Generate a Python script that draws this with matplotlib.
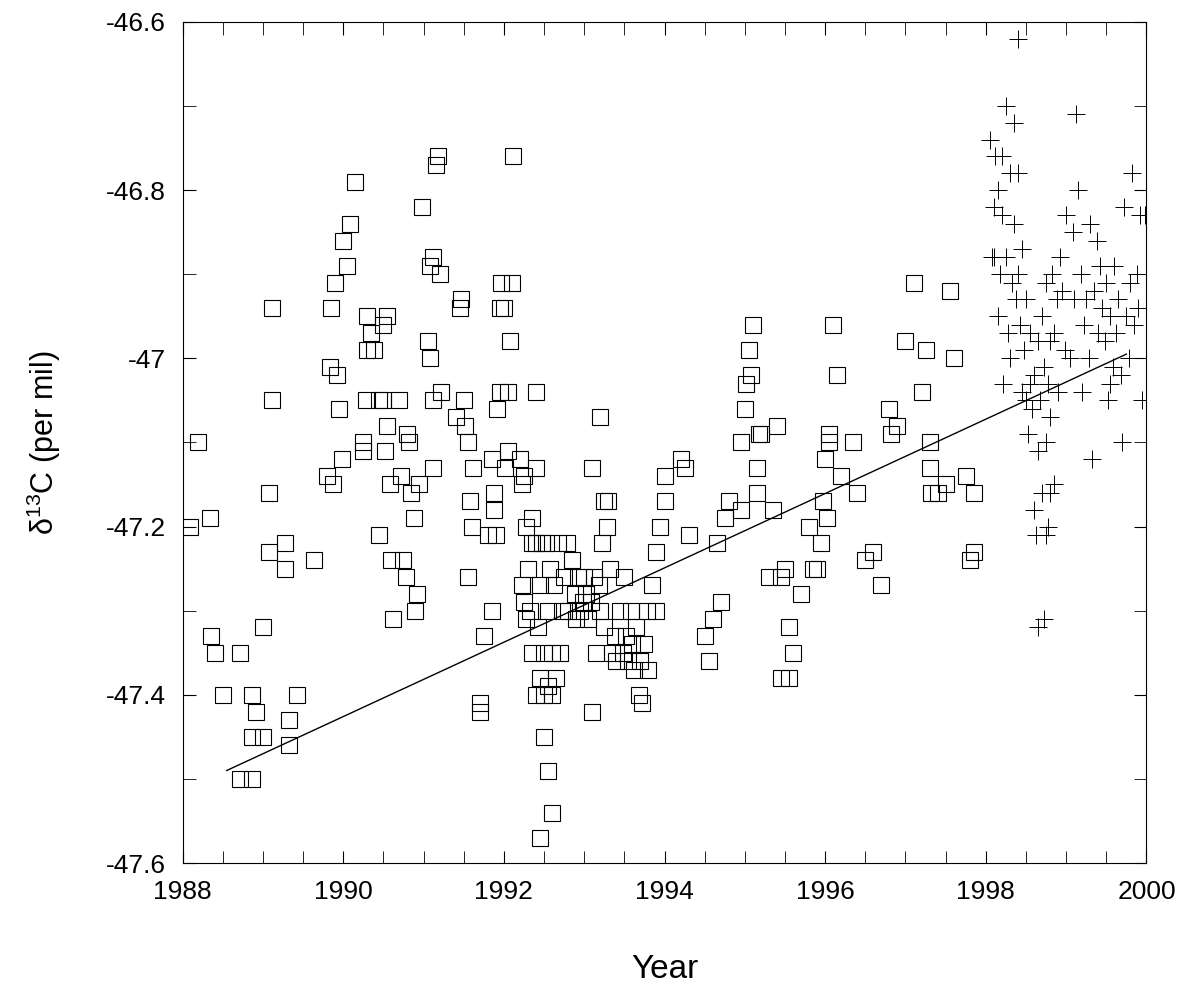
import numpy as np
import matplotlib.pyplot as plt
from matplotlib.ticker import MultipleLocator

plt.rcParams['font.family'] = ['Liberation Sans', 'DejaVu Sans']

# flask samples (squares)
sq_year = [1988.09, 1988.19, 1988.34, 1988.36, 1988.40, 1988.51, 1988.72, 1988.71, 1988.87, 1988.86,
           1988.87, 1988.91, 1989.00, 1989.00, 1989.08, 1989.08, 1989.11, 1989.12, 1989.27, 1989.27,
           1989.32, 1989.32, 1989.43, 1989.64,
           1989.80, 1989.83, 1989.85, 1989.87, 1989.90, 1989.92, 1989.95, 1989.98, 1990.00, 1990.05,
           1990.08, 1990.15, 1990.25, 1990.25, 1990.28, 1990.30, 1990.30, 1990.35, 1990.38, 1990.45,
           1990.45, 1990.50, 1990.50, 1990.52, 1990.55, 1990.55, 1990.58, 1990.60, 1990.62, 1990.70,
           1990.72, 1990.75, 1990.78, 1990.80, 1990.82, 1990.85, 1990.88, 1990.90, 1990.92, 1990.95,
           1990.98, 1991.05, 1991.08, 1991.08, 1991.12, 1991.15, 1991.18, 1991.20, 1991.22, 1991.12,
           1991.12, 1991.40, 1991.45, 1991.47, 1991.50, 1991.52, 1991.55, 1991.55, 1991.58, 1991.60,
           1991.62, 1991.70, 1991.70, 1991.75, 1991.80, 1991.85, 1991.85, 1991.88, 1991.88, 1991.90,
           1991.92, 1991.95, 1991.95, 1991.97, 1992.00, 1992.05, 1992.08, 1992.10, 1992.02, 1992.05,
           1992.12, 1992.20, 1992.22, 1992.25, 1992.28,
           1992.22, 1992.25, 1992.28, 1992.30, 1992.33, 1992.35, 1992.35, 1992.40, 1992.40, 1992.42,
           1992.45, 1992.45, 1992.48, 1992.50, 1992.50, 1992.52, 1992.55, 1992.55, 1992.58, 1992.60,
           1992.60, 1992.62, 1992.65, 1992.68, 1992.70, 1992.72, 1992.75, 1992.78, 1992.80, 1992.85,
           1992.88, 1992.90, 1992.92, 1992.95, 1992.98, 1993.00, 1993.02, 1993.05, 1993.08, 1993.10,
           1993.10, 1993.12, 1993.15, 1993.18, 1993.20, 1993.20, 1993.22, 1993.25, 1993.25, 1993.28,
           1993.30, 1993.32, 1993.35, 1993.38, 1993.40, 1993.45, 1993.48, 1993.50, 1993.52, 1993.55,
           1993.58, 1993.60, 1993.62, 1993.65, 1993.68, 1993.70, 1993.72, 1993.75, 1993.78, 1993.80,
           1992.45, 1992.60, 1992.55, 1992.50, 1992.40, 1992.40, 1992.35,
           1993.85, 1993.90, 1993.90, 1993.95, 1994.00, 1994.00, 1994.20, 1994.25, 1994.30, 1994.50,
           1994.55, 1994.60, 1994.65, 1994.70, 1994.75, 1994.80, 1994.95, 1994.95, 1995.00, 1995.02,
           1995.05, 1995.08, 1995.10, 1995.15, 1995.15, 1995.18, 1995.20, 1995.30, 1995.35, 1995.40,
           1995.45, 1995.45, 1995.50, 1995.55, 1995.55, 1995.60, 1995.70, 1995.80, 1995.85, 1995.90,
           1995.95, 1995.97, 1996.00, 1996.02, 1996.05, 1996.05, 1996.10, 1996.15, 1996.20, 1996.35,
           1996.40, 1996.50, 1996.60, 1996.70, 1996.80, 1996.82, 1996.90, 1997.00, 1997.10, 1997.20,
           1997.25, 1997.30, 1997.30, 1997.32, 1997.40, 1997.50, 1997.55, 1997.60, 1997.75, 1997.80,
           1997.85, 1997.85]
sq_d13c = [-47.20, -47.10, -47.19, -47.33, -47.35, -47.40, -47.35, -47.50, -47.50, -47.40,
           -47.45, -47.42, -47.45, -47.32, -47.23, -47.16, -46.94, -47.05, -47.22, -47.25,
           -47.43, -47.46, -47.40, -47.24,
           -47.14, -47.01, -46.94, -47.15, -46.91, -47.02, -47.06, -47.12, -46.86, -46.89,
           -46.84, -46.79, -47.10, -47.11, -47.05, -46.95, -46.99, -46.97, -46.99, -47.21,
           -47.05, -47.05, -46.96, -47.11, -46.95, -47.08, -47.15, -47.24, -47.31, -47.05,
           -47.14, -47.24, -47.26, -47.09, -47.10, -47.16, -47.19, -47.30, -47.28, -47.15,
           -46.82, -46.98, -47.00, -46.89, -46.88, -46.77, -46.76, -46.90, -47.04, -47.05,
           -47.13, -47.07, -46.94, -46.93, -47.05, -47.08, -47.10, -47.26, -47.17, -47.20,
           -47.13, -47.41, -47.42, -47.33, -47.21, -47.30, -47.12, -47.16, -47.18, -47.21,
           -47.06, -47.04, -46.94, -46.91, -46.94, -47.04, -46.98, -46.91, -47.13, -47.11,
           -46.76, -47.12, -47.15, -47.14, -47.20,
           -47.27, -47.29, -47.31, -47.25, -47.30, -47.22, -47.35, -47.22, -47.40, -47.32,
           -47.38, -47.27, -47.22, -47.40, -47.35, -47.22, -47.39, -47.30, -47.25, -47.40,
           -47.35, -47.27, -47.38, -47.22, -47.35, -47.30, -47.26, -47.22, -47.30, -47.24,
           -47.28, -47.31, -47.26, -47.30, -47.29, -47.26, -47.28, -47.31, -47.29, -47.13,
           -47.42, -47.26, -47.35, -47.27, -47.07, -47.30, -47.22, -47.17, -47.32, -47.20,
           -47.17, -47.25, -47.35, -47.33, -47.36, -47.30, -47.35, -47.26, -47.33, -47.36,
           -47.30, -47.34, -47.37, -47.32, -47.40, -47.36, -47.41, -47.34, -47.30, -47.37,
           -47.57, -47.54, -47.49, -47.45, -47.04, -47.13, -47.19,
           -47.27, -47.30, -47.23, -47.20, -47.17, -47.14, -47.12, -47.13, -47.21, -47.33,
           -47.36, -47.31, -47.22, -47.29, -47.19, -47.17, -47.10, -47.18, -47.06, -47.03,
           -46.99, -47.02, -46.96, -47.13, -47.16, -47.09, -47.09, -47.26, -47.18, -47.08,
           -47.26, -47.38, -47.25, -47.32, -47.38, -47.35, -47.28, -47.20, -47.25, -47.25,
           -47.22, -47.17, -47.12, -47.19, -47.10, -47.09, -46.96, -47.02, -47.14, -47.10,
           -47.16, -47.24, -47.23, -47.27, -47.06, -47.09, -47.08, -46.98, -46.91, -47.04,
           -46.99, -47.10, -47.13, -47.16, -47.16, -47.15, -46.92, -47.00, -47.14, -47.24,
           -47.16, -47.23]

# in-situ samples (plus)
pl_year = [1998.05, 1998.08, 1998.10, 1998.12, 1998.15, 1998.15, 1998.18, 1998.20, 1998.22, 1998.25,
           1998.25, 1998.28, 1998.30, 1998.30, 1998.32, 1998.35, 1998.35, 1998.38, 1998.40, 1998.40,
           1998.42, 1998.45, 1998.45, 1998.48, 1998.50, 1998.50, 1998.52, 1998.55, 1998.55, 1998.58,
           1998.60, 1998.60, 1998.62, 1998.65, 1998.65, 1998.68, 1998.70, 1998.70, 1998.72, 1998.75,
           1998.75, 1998.78, 1998.80, 1998.80, 1998.82, 1998.85, 1998.85, 1998.88, 1998.90, 1998.92,
           1998.95, 1998.98, 1999.00, 1999.05, 1999.08, 1999.10, 1999.12, 1999.15, 1999.18, 1999.20,
           1999.22, 1999.25, 1999.28, 1999.30, 1999.32, 1999.35, 1999.38, 1999.40, 1999.42, 1999.45,
           1999.48, 1999.50, 1999.52, 1999.55, 1999.58, 1999.60, 1999.62, 1999.65, 1999.68, 1999.70,
           1999.72, 1999.75, 1999.78, 1999.80, 1999.82, 1999.85, 1999.88, 1999.90, 1999.92, 1999.95,
           1998.10, 1998.20, 1998.40, 1998.65, 1998.72, 1998.75, 1998.78, 1998.80, 1999.55, 1999.98]
pl_d13c = [-46.74, -46.88, -46.82, -46.76, -46.95, -46.80, -46.90, -46.83, -47.03, -46.70,
           -46.88, -46.97, -46.78, -47.00, -46.91, -46.72, -46.84, -46.93, -46.90, -46.78,
           -46.96, -46.87, -47.04, -46.99, -47.05, -46.93, -47.09, -47.03, -46.97, -47.06,
           -47.18, -47.02, -47.21, -47.11, -46.98, -47.05, -47.16, -46.95, -47.01, -47.10,
           -46.91, -47.03, -46.98, -47.07, -46.90, -47.15, -46.97, -46.93, -47.04, -46.88,
           -46.92, -46.99, -46.83, -47.00, -46.85, -46.93, -46.71, -46.80, -46.90, -47.04,
           -46.96, -46.93, -47.00, -46.84, -47.12, -46.92, -46.86, -46.97, -46.89, -46.94,
           -46.98, -46.91, -47.05, -46.95, -47.01, -46.89, -46.97, -46.93, -47.02, -47.10,
           -46.82, -46.95, -47.00, -46.91, -46.78, -46.96, -46.90, -46.94, -46.83, -47.05,
           -46.88, -46.76, -46.62, -47.32, -47.31, -47.21, -47.20, -47.16, -47.03, -46.83]

# trend line end points
trend_year = [1988.55, 1999.75]
trend_d13c = [-47.49, -46.995]

fig = plt.figure(figsize=(11.93, 9.92), dpi=100)
ax = fig.add_axes([0.153, 0.130, 0.808, 0.848])

ax.plot(sq_year, sq_d13c, 's', mfc='none', mec='black', ms=12, mew=0.8, ls='none')
ax.plot(pl_year, pl_d13c, '+', color='black', ms=13, mew=0.7, ls='none')
ax.plot(trend_year, trend_d13c, '-', color='black', lw=1)

ax.set_xlim(1988, 2000)
ax.set_ylim(-47.6, -46.6)
ax.xaxis.set_major_locator(MultipleLocator(2))
ax.xaxis.set_minor_locator(MultipleLocator(0.5))
ax.yaxis.set_minor_locator(MultipleLocator(0.1))
ax.set_yticks([-47.6, -47.4, -47.2, -47.0, -46.8, -46.6])
ax.set_yticklabels(['-47.6', '-47.4', '-47.2', '-47', '-46.8', '-46.6'])
ax.tick_params(which='both', direction='in', top=True, right=True, labelsize=19, pad=12, length=9)

ax.set_xlabel('Year', fontsize=24, labelpad=36)
ax.set_ylabel(r'$\mathregular{\delta^{13}}$C (per mil)', fontsize=22, labelpad=31)

fig.savefig('out.png', dpi=100)
